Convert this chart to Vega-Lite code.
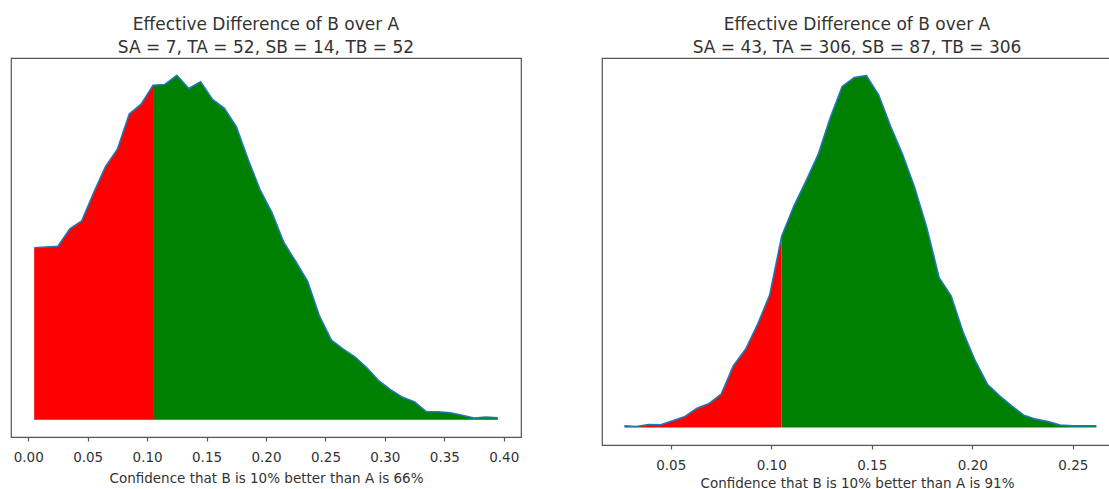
{
  "$schema": "https://vega.github.io/schema/vega-lite/v6.json",
  "background": "white",
  "padding": {"left": 10, "top": 14, "right": 0, "bottom": 0},
  "autosize": {"type": "pad"},
  "spacing": 79,
  "config": {
    "font": "DejaVu Sans",
    "view": {"stroke": "#555555", "strokeWidth": 1.2},
    "title": {"font": "DejaVu Sans", "fontSize": 17, "fontWeight": "normal", "color": "#333333", "lineHeight": 23.5, "anchor": "middle", "frame": "group", "offset": 1, "baseline": "alphabetic"},
    "axis": {"domain": false, "grid": false, "ticks": true, "tickColor": "#555555", "tickSize": 4, "tickWidth": 1.2, "labelFont": "DejaVu Sans", "labelFontSize": 13.5, "labelColor": "#333333", "labelPadding": 9, "titleFont": "DejaVu Sans", "titleFontSize": 13.5, "titleColor": "#333333", "titleFontWeight": "normal", "titlePadding": 8}
  },
  "hconcat": [
    {
      "width": 510,
      "height": 379,
      "title": {"text": ["Effective Difference of B over A", "SA = 7, TA = 52, SB = 14, TB = 52"]},
      "data": {"values": [
        {"x": 0.005, "y": 172.7}, {"x": 0.015, "y": 173.5}, {"x": 0.025, "y": 174.3}, {"x": 0.035, "y": 191.7},
        {"x": 0.045, "y": 199.7}, {"x": 0.055, "y": 228.0}, {"x": 0.065, "y": 254.3}, {"x": 0.075, "y": 271.7},
        {"x": 0.085, "y": 307.0}, {"x": 0.095, "y": 317.0}, {"x": 0.105, "y": 336.0}, {"x": 0.115, "y": 336.7},
        {"x": 0.125, "y": 346.0}, {"x": 0.135, "y": 332.7}, {"x": 0.145, "y": 339.3}, {"x": 0.155, "y": 321.7},
        {"x": 0.165, "y": 312.7}, {"x": 0.175, "y": 294.3}, {"x": 0.185, "y": 261.3}, {"x": 0.195, "y": 231.0},
        {"x": 0.205, "y": 208.0}, {"x": 0.215, "y": 178.0}, {"x": 0.225, "y": 159.0}, {"x": 0.235, "y": 139.0},
        {"x": 0.245, "y": 104.0}, {"x": 0.255, "y": 80.0}, {"x": 0.265, "y": 71.0}, {"x": 0.275, "y": 63.0},
        {"x": 0.285, "y": 52.0}, {"x": 0.295, "y": 39.0}, {"x": 0.305, "y": 30.0}, {"x": 0.315, "y": 22.5},
        {"x": 0.325, "y": 18.0}, {"x": 0.335, "y": 8.0}, {"x": 0.345, "y": 8.0}, {"x": 0.355, "y": 7.0},
        {"x": 0.365, "y": 4.5}, {"x": 0.375, "y": 1.7}, {"x": 0.385, "y": 2.7}, {"x": 0.395, "y": 2.0}
      ]},
      "encoding": {
        "x": {"field": "x", "type": "quantitative",
              "scale": {"domain": [-0.0145, 0.4145], "nice": false, "zero": false},
              "axis": {"values": [0, 0.05, 0.1, 0.15, 0.2, 0.25, 0.3, 0.35, 0.4], "format": ".2f", "title": "Confidence that B is 10% better than A is 66%"}},
        "y": {"field": "y", "type": "quantitative",
              "scale": {"domain": [-17.3, 363.3], "nice": false, "zero": false},
              "axis": null}
      },
      "layer": [
        {"transform": [{"filter": "datum.x <= 0.105"}], "mark": {"type": "area", "color": "#ff0000", "opacity": 1}, "encoding": {"y2": {"datum": 0}}},
        {"transform": [{"filter": "datum.x >= 0.105"}], "mark": {"type": "area", "color": "#008000", "opacity": 1}, "encoding": {"y2": {"datum": 0}}},
        {"mark": {"type": "line", "color": "#1f77b4", "strokeWidth": 1.6}, "encoding": {}}
      ]
    },
    {
      "width": 510,
      "height": 387,
      "title": {"text": ["Effective Difference of B over A", "SA = 43, TA = 306, SB = 87, TB = 306"]},
      "data": {"values": [
        {"x": 0.0270, "y": 1.6}, {"x": 0.0330, "y": 1.0}, {"x": 0.0390, "y": 3.0}, {"x": 0.0450, "y": 2.6},
        {"x": 0.0510, "y": 6.6}, {"x": 0.0571, "y": 11.0}, {"x": 0.0631, "y": 19.3}, {"x": 0.0691, "y": 24.0},
        {"x": 0.0751, "y": 33.3}, {"x": 0.0811, "y": 61.6}, {"x": 0.0872, "y": 78.3}, {"x": 0.0932, "y": 103.3},
        {"x": 0.0992, "y": 132.6}, {"x": 0.1052, "y": 191.6}, {"x": 0.1112, "y": 221.6}, {"x": 0.1172, "y": 246.6},
        {"x": 0.1233, "y": 273.3}, {"x": 0.1293, "y": 310.0}, {"x": 0.1353, "y": 341.6}, {"x": 0.1413, "y": 350.6},
        {"x": 0.1473, "y": 352.6}, {"x": 0.1534, "y": 333.3}, {"x": 0.1594, "y": 301.6}, {"x": 0.1654, "y": 273.3},
        {"x": 0.1714, "y": 240.0}, {"x": 0.1774, "y": 200.0}, {"x": 0.1835, "y": 150.0}, {"x": 0.1895, "y": 131.6},
        {"x": 0.1955, "y": 95.0}, {"x": 0.2015, "y": 66.6}, {"x": 0.2075, "y": 43.3}, {"x": 0.2136, "y": 31.6},
        {"x": 0.2196, "y": 21.6}, {"x": 0.2256, "y": 12.3}, {"x": 0.2316, "y": 8.3}, {"x": 0.2376, "y": 6.0},
        {"x": 0.2437, "y": 2.3}, {"x": 0.2497, "y": 1.6}, {"x": 0.2557, "y": 1.6}, {"x": 0.2617, "y": 1.6}
      ]},
      "encoding": {
        "x": {"field": "x", "type": "quantitative",
              "scale": {"domain": [0.0158, 0.2695], "nice": false, "zero": false},
              "axis": {"values": [0.05, 0.1, 0.15, 0.2, 0.25], "format": ".2f", "title": "Confidence that B is 10% better than A is 91%", "titlePadding": 5}},
        "y": {"field": "y", "type": "quantitative",
              "scale": {"domain": [-17.6, 370.2], "nice": false, "zero": false},
              "axis": null}
      },
      "layer": [
        {"transform": [{"filter": "datum.x <= 0.1052"}], "mark": {"type": "area", "color": "#ff0000", "opacity": 1}, "encoding": {"y2": {"datum": 0}}},
        {"transform": [{"filter": "datum.x >= 0.1052"}], "mark": {"type": "area", "color": "#008000", "opacity": 1}, "encoding": {"y2": {"datum": 0}}},
        {"mark": {"type": "line", "color": "#1f77b4", "strokeWidth": 1.6}, "encoding": {}}
      ]
    }
  ]
}
